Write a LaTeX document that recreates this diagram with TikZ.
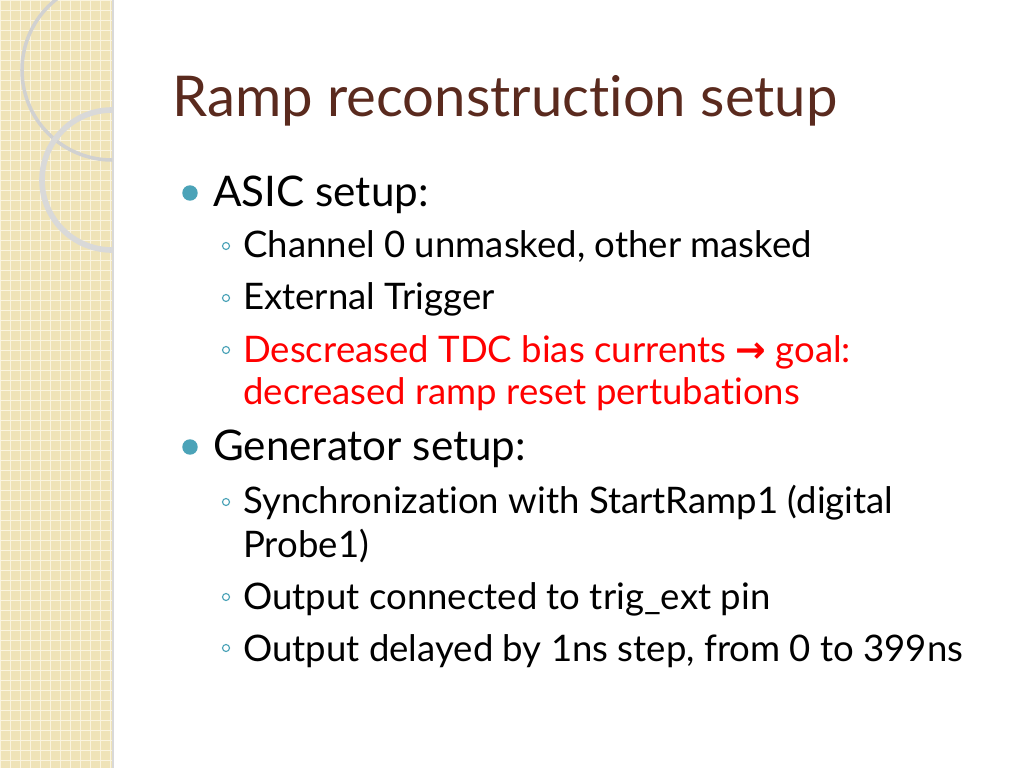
\documentclass[tikz,border=0pt]{standalone}
\usepackage{fontspec}
\setmainfont{Lato}[RawFeature={-liga}]
\newfontfamily\symfont{DejaVu Sans}
\usetikzlibrary{positioning}
\definecolor{titlebrown}{HTML}{5A2A1E}
\definecolor{bullteal}{HTML}{4BA3B8}
\definecolor{stripbeige}{HTML}{EFE3B8}
\definecolor{gridline}{HTML}{FAF4E0}
\begin{document}
\begin{tikzpicture}[x=0.025cm,y=-0.025cm]
  \tikzstyle{lvlone}=[anchor=base west, inner sep=0pt, font=\fontsize{30}{35}\selectfont]
  \tikzstyle{lvltwo}=[anchor=base west, inner sep=0pt, font=\fontsize{26}{31}\selectfont]
  \tikzstyle{bigdot}=[circle, fill=bullteal, inner sep=0pt, minimum size=11pt]
  \tikzstyle{smalldot}=[circle, draw=bullteal, line width=0.8pt, inner sep=0pt, minimum size=5pt]

  % page and left strip
  \useasboundingbox (0,0) rectangle (1024,768);
  \fill[white] (0,0) rectangle (1024,768);
  \fill[stripbeige] (0,0) rectangle (112,768);
  \foreach \g in {0,10,...,110}
    \draw[gridline, line width=0.6pt] (\g,0) -- (\g,768);
  \foreach \g in {0,10,...,760}
    \draw[gridline, line width=0.6pt] (0,\g) -- (112,\g);
  \draw[black!15, line width=2pt] (113,0) -- (113,768);
  \begin{scope}
    \clip (0,0) rectangle (112,768);
    \draw[black!18, line width=2.5pt] (112,70) circle (90);
    \draw[black!15, line width=4pt] (112,180) circle (70);
  \end{scope}

  % title
  \node[anchor=base west, inner sep=0pt, text=titlebrown, font=\fontsize{40}{46}\selectfont] (title) at (172,117) {Ramp reconstruction setup};

  % ASIC block
  \node[bigdot] (b-1) at (190,193) {};
  \node[lvlone] (asic) at (213,206) {ASIC setup:};
  \node[smalldot] (s-1) at (226,246) {};
  \node[lvltwo] (chan) at (243,257) {Channel 0 unmasked, other masked};
  \node[smalldot] (s-2) at (226,298) {};
  \node[lvltwo] (ext) at (243,309) {External Trigger};
  \node[smalldot] (s-3) at (226,350) {};
  \node[lvltwo, text=red] (tdc) at (243,362) {Descreased TDC bias currents {\symfont\bfseries\fontsize{26}{30}\selectfont →} goal:};
  \node[lvltwo, text=red] (tdc2) at (243,404) {decreased ramp reset pertubations};

  % generator block
  \node[bigdot] (b-2) at (190,447) {};
  \node[lvlone] (gen) at (213,460) {Generator setup:};
  \node[smalldot] (s-4) at (226,502) {};
  \node[lvltwo] (sync) at (243,513) {Synchronization with StartRamp1 (digital};
  \node[lvltwo] (sync2) at (243,557) {Probe1)};
  \node[smalldot] (s-5) at (226,597) {};
  \node[lvltwo] (out) at (243,609) {Output connected to trig\_ext pin};
  \node[smalldot] (s-6) at (226,648) {};
  \node[lvltwo] (dly) at (243,661) {Output delayed by 1ns step, from 0 to 399ns};
\end{tikzpicture}
\end{document}
